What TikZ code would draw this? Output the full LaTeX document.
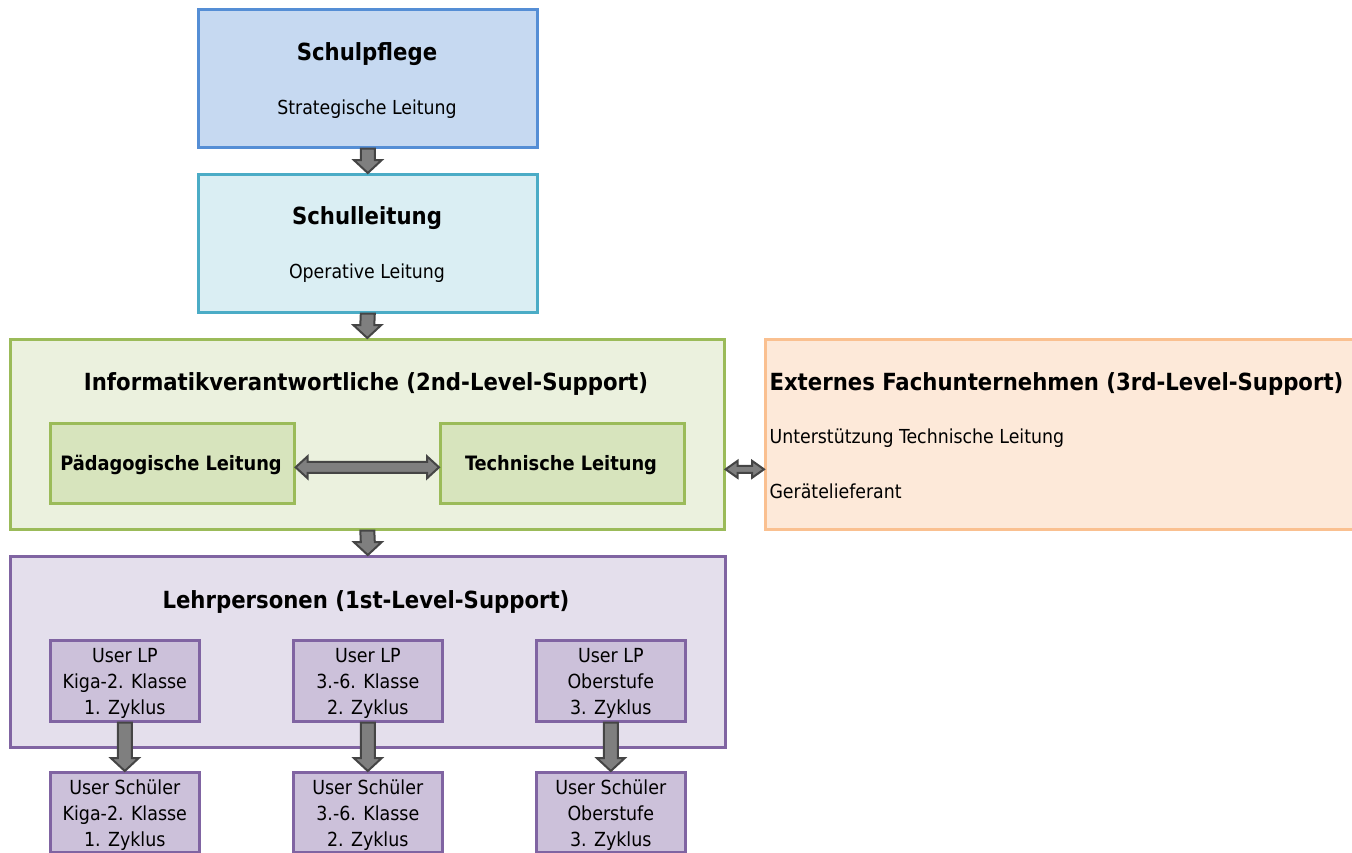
\documentclass[tikz,border=0pt]{standalone}
\usepackage{fontspec}
\setmainfont{DejaVu Sans Condensed}
\usetikzlibrary{calc}
\definecolor{spfill}{HTML}{C6D9F1}\definecolor{spdraw}{HTML}{558ED5}
\definecolor{slfill}{HTML}{DAEEF3}\definecolor{sldraw}{HTML}{4BACC6}
\definecolor{ivfill}{HTML}{EBF1DE}\definecolor{ivdraw}{HTML}{9BBB59}
\definecolor{ivsub}{HTML}{D7E4BD}
\definecolor{exfill}{HTML}{FDE9D9}\definecolor{exdraw}{HTML}{FAC090}
\definecolor{lpfill}{HTML}{E4DFEC}\definecolor{lpdraw}{HTML}{8064A2}
\definecolor{lpsub}{HTML}{CCC1DA}
\definecolor{arfill}{HTML}{7F7F7F}\definecolor{ardraw}{HTML}{454545}
\tikzset{
  box/.style={draw, line width=2.6pt, anchor=north west, inner sep=0pt},
  ttl/.style={font=\fontsize{23.6}{28}\selectfont\bfseries},
  txt/.style={font=\fontsize{19.3}{23}\selectfont},
  utxt/.style={font=\fontsize{19.4}{26}\selectfont, align=center},
  blk/.style={fill=arfill, draw=ardraw, line width=2pt, line join=miter},
}
\newcommand{\blkdown}[2]{% from node #1 south to node #2 north
  \draw[blk] ($(#1.south)+(-7,0)$) -- ($(#2.north)+(-7,-13)$) -- ($(#2.north)+(-14,-13)$) -- (#2.north) -- ($(#2.north)+(14,-13)$) -- ($(#2.north)+(7,-13)$) -- ($(#1.south)+(7,0)$) -- cycle;}
\begin{document}
\begin{tikzpicture}[x=1pt,y=-1pt]
\useasboundingbox (0,0) rectangle (1352,852);
\clip (0,0) rectangle (1352,852);
% top boxes
\node[box, fill=spfill, draw=spdraw, minimum width=339pt, minimum height=138pt] (sp) at (197,8) {};
\node[ttl] (spt) at (367,54) {Schulpflege};
\node[txt] (sps) at (367,109) {Strategische Leitung};
\node[box, fill=slfill, draw=sldraw, minimum width=339pt, minimum height=138pt] (sl) at (197,173) {};
\node[ttl] (slt) at (367,218) {Schulleitung};
\node[txt] (sls) at (367,273) {Operative Leitung};
% informatik
\node[box, fill=ivfill, draw=ivdraw, minimum width=714pt, minimum height=190pt] (iv) at (9,338) {};
\node[ttl] (ivt) at (366,384) {Informatikverantwortliche (2nd-Level-Support)};
\node[box, fill=ivsub, draw=ivdraw, minimum width=244pt, minimum height=80pt] (pl) at (49,422) {};
\node[font=\fontsize{19.8}{23}\selectfont\bfseries] (plt) at (171,465) {Pädagogische Leitung};
\node[box, fill=ivsub, draw=ivdraw, minimum width=244pt, minimum height=80pt] (tl) at (439,422) {};
\node[font=\fontsize{19.8}{23}\selectfont\bfseries] (tlt) at (561,465) {Technische Leitung};
% externes
\node[box, fill=exfill, draw=exdraw, minimum width=600pt, minimum height=190pt] (ex) at (764,338) {};
\node[ttl, anchor=west] (ext) at (766,384) {Externes Fachunternehmen (3rd-Level-Support)};
\node[txt, anchor=west] (ex1) at (766,438) {Unterstützung Technische Leitung};
\node[txt, anchor=west] (ex2) at (766,491) {Gerätelieferant};
% lehrpersonen
\node[box, fill=lpfill, draw=lpdraw, minimum width=715pt, minimum height=191pt] (lp) at (9,555) {};
\node[ttl] (lpt) at (366,602) {Lehrpersonen (1st-Level-Support)};
\foreach \n/\x/\a/\b in {1/49/Kiga-2. Klasse/1. Zyklus, 2/292/3.-6. Klasse/2. Zyklus, 3/535/Oberstufe/3. Zyklus}{
  \node[box, fill=lpsub, draw=lpdraw, minimum width=149pt, minimum height=81pt] (u\n) at (\x,639) {};
  \node[utxt] (ut\n) at ($(u\n.center)+(0,3)$) {User LP\\\a\\\b};
  \node[box, fill=lpsub, draw=lpdraw, minimum width=149pt, minimum height=80pt] (s\n) at (\x,771) {};
  \node[utxt] (st\n) at ($(s\n.center)+(0,3)$) {User Schüler\\\a\\\b};
}
% arrows
\blkdown{sp}{sl}
\blkdown{sl}{iv}
\blkdown{iv}{lp}
\blkdown{u1}{s1}
\blkdown{u2}{s2}
\blkdown{u3}{s3}
% double arrows
\coordinate (pa) at ($(pl.east)+(0,4)$);
\coordinate (ta) at ($(tl.west)+(0,4)$);
\draw[blk] (pa) -- ($(pa)+(12,-11)$) -- ($(pa)+(12,-5.5)$) -- ($(ta)+(-12,-5.5)$) -- ($(ta)+(-12,-11)$) -- (ta) -- ($(ta)+(-12,11)$) -- ($(ta)+(-12,5.5)$) -- ($(pa)+(12,5.5)$) -- ($(pa)+(12,11)$) -- cycle;
\coordinate (ia) at ($(iv.east)+(0,35)$);
\coordinate (ea) at ($(ex.west)+(0,35)$);
\draw[blk] (ia) -- ($(ia)+(12,-8.5)$) -- ($(ia)+(12,-3.5)$) -- ($(ea)+(-12,-3.5)$) -- ($(ea)+(-12,-8.5)$) -- (ea) -- ($(ea)+(-12,8.5)$) -- ($(ea)+(-12,3.5)$) -- ($(ia)+(12,3.5)$) -- ($(ia)+(12,8.5)$) -- cycle;
\end{tikzpicture}
\end{document}
